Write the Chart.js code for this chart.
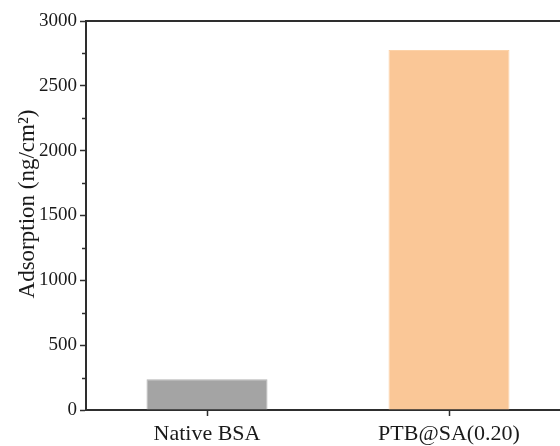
<!DOCTYPE html>
<html>
<head>
<meta charset="utf-8">
<script src="https://cdn.jsdelivr.net/npm/chart.js@4/dist/chart.umd.min.js"></script>
<style>
  html, body { margin: 0; padding: 0; background: #fff; }
  body { width: 560px; height: 446px; overflow: hidden; }
  #wrap { width: 570px; height: 446px; }
</style>
</head>
<body>
<div id="wrap"><canvas id="chart" width="570" height="446"></canvas></div>
<script>
// ── Data ──
const categories = ['Native BSA', 'PTB@SA(0.20)'];
const adsorption = [237, 2776];           // ng/cm²
const barColors  = ['#a4a4a4', '#fac797'];
const barEdges   = ['#b4b4b4', '#fcd2a8'];
const yTicksMinor = [250, 750, 1250, 1750, 2250, 2750];

const AXIS = '#2e2e2e';
const SERIF = '"Liberation Serif", "Times New Roman", serif';

// minor ticks on the y axis (Chart.js has none of its own)
const minorTicks = {
  id: 'minorTicks',
  afterDraw(chart) {
    const y = chart.scales.y;
    const ctx = chart.ctx;
    ctx.save();
    ctx.strokeStyle = AXIS;
    ctx.lineWidth = 1.5;
    yTicksMinor.forEach(v => {
      const py = Math.round(y.getPixelForValue(v)) + 0.5;
      ctx.beginPath();
      ctx.moveTo(y.right - 4, py);
      ctx.lineTo(y.right, py);
      ctx.stroke();
    });
    ctx.restore();
  }
};

new Chart(document.getElementById('chart'), {
  type: 'bar',
  data: {
    labels: categories,
    datasets: [{
      data: adsorption,
      backgroundColor: barColors,
      borderColor: barEdges,
      borderWidth: 1,
      categoryPercentage: 0.5,
      barPercentage: 1,
    }]
  },
  options: {
    responsive: false,
    animation: false,
    layout: { padding: { top: 21, left: 0, right: 0, bottom: 0 } },
    plugins: { legend: { display: false }, tooltip: { enabled: false } },
    scales: {
      x: {
        type: 'category',
        offset: true,
        grid: { offset: false, drawOnChartArea: false, tickLength: 6, tickWidth: 1.5, tickColor: AXIS },
        border: { color: AXIS, width: 2 },
        ticks: { color: '#1a1a1a', padding: 5, font: { family: SERIF, size: 22 }, maxRotation: 0 },
        afterFit: s => { s.height = 36; }
      },
      x2: {
        type: 'category',
        position: 'top',
        labels: categories,
        grid: { drawOnChartArea: false, drawTicks: false },
        border: { color: AXIS, width: 2 },
        ticks: { display: false },
        afterFit: s => { s.height = 0; }
      },
      y: {
        min: 0,
        max: 3000,
        ticks: {
          stepSize: 500,
          color: '#1a1a1a',
          padding: 3,
          font: { family: SERIF, size: 19 },
          callback: v => String(v)
        },
        grid: { drawOnChartArea: false, tickLength: 6, tickWidth: 1.5, tickColor: AXIS },
        border: { color: AXIS, width: 2 },
        title: {
          display: true,
          text: '    Adsorption (ng/cm²)',
          color: '#1a1a1a',
          font: { family: SERIF, size: 23, weight: 'normal' },
          padding: { top: 14, bottom: 0 }
        },
        afterFit: s => { s.width = 86; }
      }
    }
  },
  plugins: [minorTicks]
});
</script>
</body>
</html>
